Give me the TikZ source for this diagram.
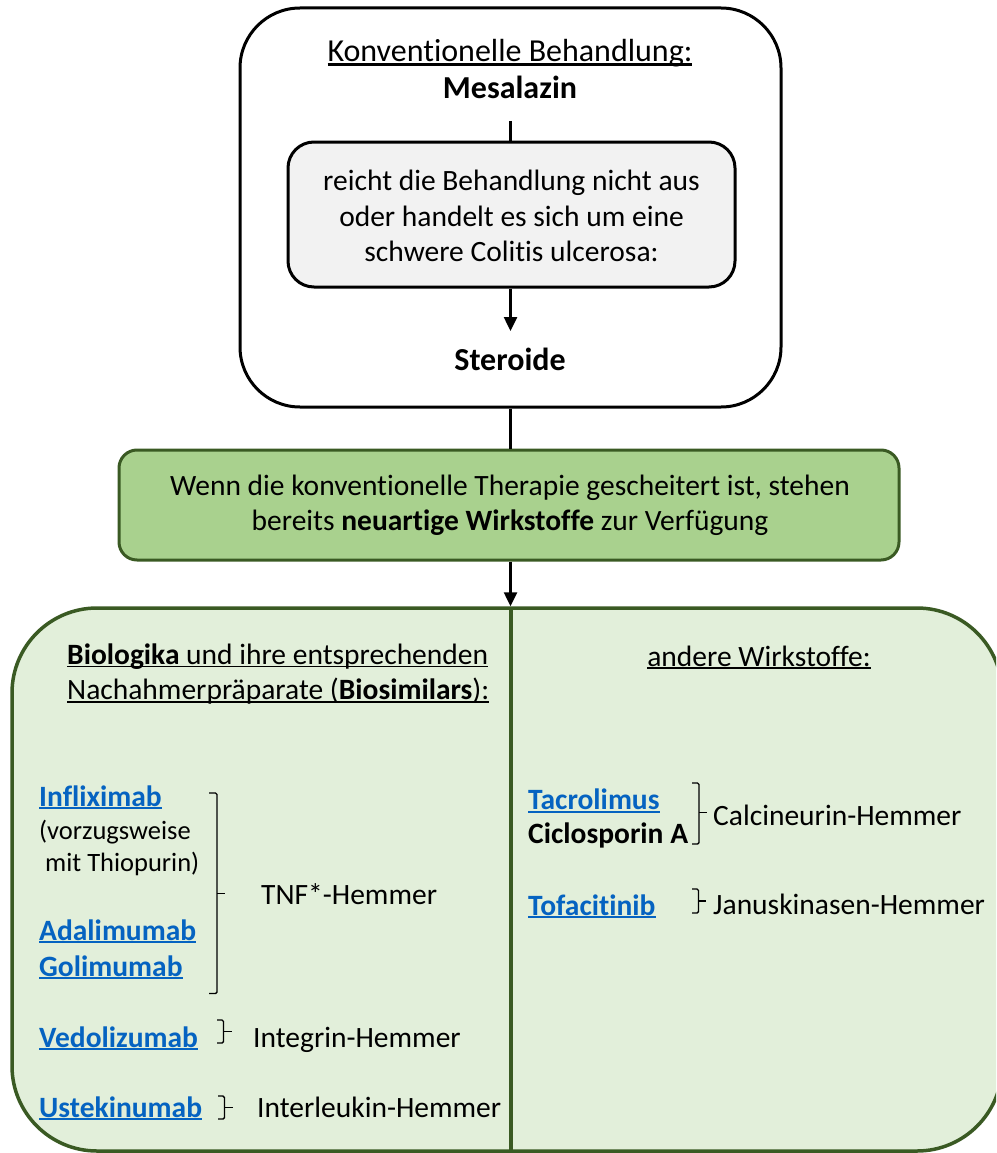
\documentclass[tikz,border=0pt]{standalone}
\usepackage{fontspec}
\setmainfont{Carlito}[Ligatures={NoCommon}]
\usetikzlibrary{arrows.meta}
\definecolor{linkblue}{HTML}{0563C1}
\definecolor{dkgreen}{HTML}{3A5A23}
\definecolor{midgreen}{HTML}{A9D18E}
\definecolor{palegreen}{HTML}{E2EFDA}
\definecolor{palegray}{HTML}{F2F2F2}
\newcommand\myul[2][black]{\setbox0\hbox{#2}\rlap{\color{#1}\rule[-0.11em]{\wd0}{0.065em}}\box0}
\newcommand\lnk[1]{\myul[linkblue]{\textcolor{linkblue}{\bfseries #1}}}
\tikzset{
  txt/.style={inner sep=0pt, font=\fontsize{29.5}{35.5}\selectfont},
  smalltxt/.style={inner sep=0pt, font=\fontsize{26.5}{32}\selectfont},
  bigtxt/.style={inner sep=0pt, font=\fontsize{32}{38}\selectfont},
  boxblack/.style={draw=black, line width=3pt},
  boxgreen/.style={draw=dkgreen, line width=3pt},
  conn/.style={draw=black, line width=2.5pt},
  arr/.style={conn, -{Triangle[length=14pt,width=13pt]}},
  brk/.style={draw=black, line width=1.4pt, rounded corners=1.5pt},
}
\begin{document}
\begin{tikzpicture}[x=1pt,y=-1pt]
\useasboundingbox (0,0) rectangle (996,1153);
\clip (0,0) rectangle (996,1153);
% top container
\node[boxblack, rounded corners=60pt, minimum width=541pt, minimum height=399pt] (top) at (510.5,207.5) {};
\node[bigtxt, anchor=base] (title) at (510,62) {\myul{Konventionelle Behandlung:}};
\node[bigtxt, anchor=base, font=\fontsize{32}{38}\selectfont\bfseries] (mesa) at (510,99) {Mesalazin};
\coordinate (m1) at (510.5,121);
\node[boxblack, fill=palegray, rounded corners=26pt, minimum width=447pt, minimum height=145pt] (inner) at (511.5,214.5) {};
\node[txt, align=center] (innertxt) at (511.5,216) {reicht die Behandlung nicht aus\\oder handelt es sich um eine\\schwere Colitis ulcerosa:};
\coordinate (s1) at (510.5,331);
\node[bigtxt, anchor=base, font=\fontsize{32}{38}\selectfont\bfseries] (ster) at (510,370) {Steroide};
\draw[conn] (m1) -- (m1 |- inner.north);
\draw[arr] (s1 |- inner.south) -- (s1);
% green box
\node[boxgreen, fill=midgreen, rounded corners=18pt, minimum width=780pt, minimum height=110pt] (green) at (509,505) {};
\node[txt, align=center] (greentxt) at (510,505.5) {Wenn die konventionelle Therapie gescheitert ist, stehen\\bereits \textbf{neuartige Wirkstoffe} zur Verfügung};
\draw[conn] (top.south) -- (top.south |- green.north);
% big box
\node[draw=dkgreen, line width=3.5pt, fill=palegreen, rounded corners=85pt, minimum width=990pt, minimum height=543pt] (big) at (507,879.5) {};
\draw[arr] (510.5,0 |- green.south) -- (510.5,0 |- big.north);
\coordinate (dtop) at (511,608);
\coordinate (dbot) at (511,1153);
\draw[draw=dkgreen, line width=4pt] (dtop) -- (dbot);
% left column
\node[txt, align=left, anchor=west] (bioh) at (67,674) {\myul{\textbf{Biologika} und ihre entsprechenden}\\\myul{Nachahmerpräparate (\textbf{Biosimilars}):}};
\node[txt, anchor=base west] (inf) at (39,806) {\lnk{Infliximab}};
\node[smalltxt, anchor=base west] (vor1) at (39,839) {(vorzugsweise};
\node[smalltxt, anchor=base west] (vor2) at (45,871) {mit Thiopurin)};
\node[txt, anchor=base west] (ada) at (39,940) {\lnk{Adalimumab}};
\node[txt, anchor=base west] (gol) at (39,976) {\lnk{Golimumab}};
\node[txt, anchor=base west] (tnf) at (261,904) {TNF*-Hemmer};
\draw[brk] (209,793) -- (217,793) -- (217,993.5) -- (209,993.5);
\draw[brk] (217,893.5) -- (225,893.5);
\node[txt, anchor=base west] (ved) at (39,1047) {\lnk{Vedolizumab}};
\node[txt, anchor=base west] (integ) at (253,1047) {Integrin-Hemmer};
\draw[brk] (217,1020) -- (223.5,1020) -- (223.5,1043) -- (217,1043);
\draw[brk] (223.5,1031.5) -- (231.5,1031.5);
\node[txt, anchor=base west] (ust) at (39,1117) {\lnk{Ustekinumab}};
\node[txt, anchor=base west] (inter) at (257,1117) {Interleukin-Hemmer};
\draw[brk] (218,1096) -- (224.5,1096) -- (224.5,1119) -- (218,1119);
\draw[brk] (224.5,1107.5) -- (232.5,1107.5);
% right column
\node[txt, anchor=base] (andere) at (759,666) {\myul{andere Wirkstoffe:}};
\node[txt, anchor=base west] (tac) at (528,809.5) {\lnk{Tacrolimus}};
\node[txt, anchor=base west, font=\fontsize{29.5}{35.5}\selectfont\bfseries] (cic) at (528,843) {Ciclosporin A};
\draw[brk] (692,783) -- (699,783) -- (699,844) -- (692,844);
\draw[brk] (699,812.5) -- (706.5,812.5);
\node[txt, anchor=base west] (calc) at (713,825) {Calcineurin-Hemmer};
\node[txt, anchor=base west] (tofa) at (528,915) {\lnk{Tofacitinib}};
\draw[brk] (692,889) -- (698.5,889) -- (698.5,913) -- (692,913);
\draw[brk] (698.5,901) -- (705.5,901);
\node[txt, anchor=base west] (janus) at (713,914) {Januskinasen-Hemmer};
\end{tikzpicture}
\end{document}
